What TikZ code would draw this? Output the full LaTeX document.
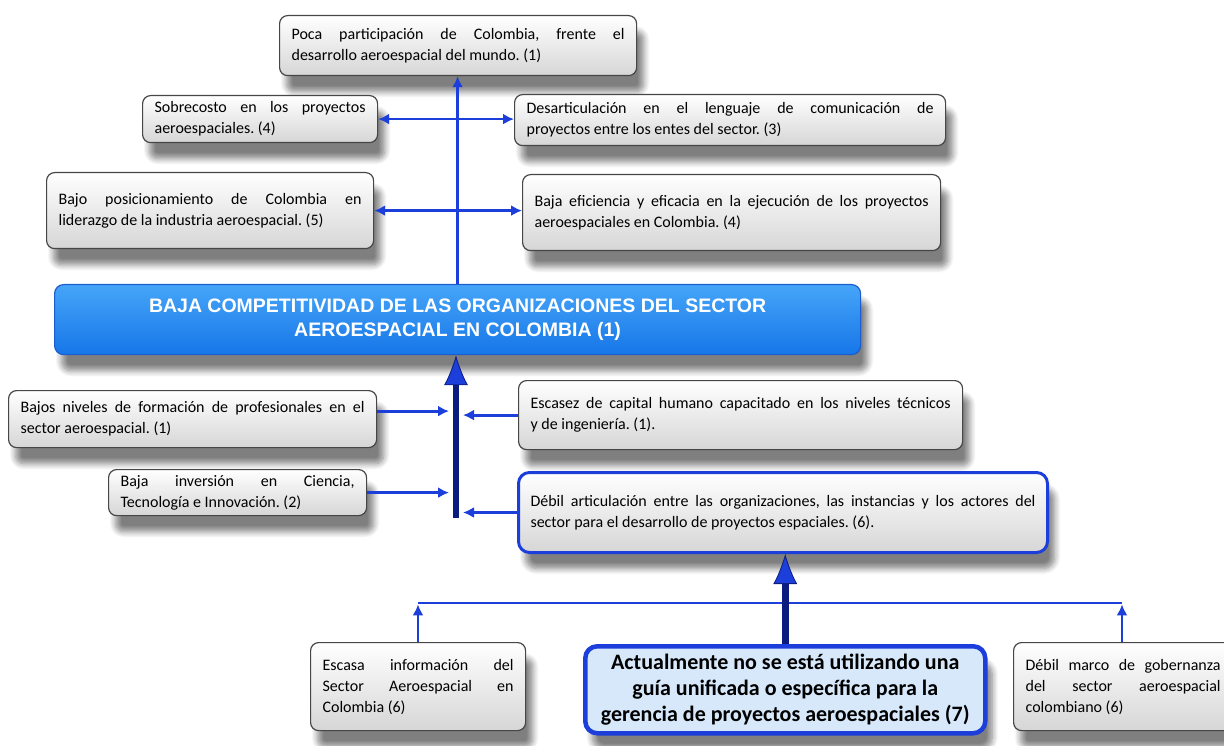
\documentclass[tikz,border=0pt]{standalone}
\usepackage{fontspec}
\setmainfont{Carlito}
\newfontfamily\headfont{Liberation Sans}
\usetikzlibrary{arrows.meta,shadows.blur,calc}

\definecolor{lineblue}{RGB}{28,62,218}
\definecolor{navy}{RGB}{10,28,125}
\definecolor{headtop}{RGB}{70,165,248}
\definecolor{headbot}{RGB}{22,118,232}
\definecolor{headedge}{RGB}{28,92,205}
\definecolor{boxedge}{RGB}{70,70,70}
\definecolor{boxlow}{RGB}{214,214,214}
\definecolor{paleblue}{RGB}{214,232,250}

\newcommand\boxtext{\fontsize{16}{21}\selectfont}

\tikzset{
  x=1pt, y=-1pt,
  softshadow/.style={blur shadow={shadow xshift=7pt, shadow yshift=-16pt,
      shadow opacity=50, shadow blur steps=8, shadow blur radius=6pt}},
  gbox/.style={draw=boxedge, line width=1.2pt, rounded corners=8pt,
      top color=white, bottom color=boxlow, anchor=north west,
      align=justify, inner xsep=12pt, inner ysep=2pt,
      font=\boxtext, softshadow},
  headbox/.style={draw=headedge, line width=1.2pt, rounded corners=9pt,
      top color=headtop, bottom color=headbot, anchor=north west,
      align=center, text=white, softshadow,
      font=\headfont\bfseries\fontsize{19.5}{24}\selectfont},
  keybox/.style={draw=lineblue, line width=4.5pt, rounded corners=12pt,
      fill=paleblue, anchor=north west, align=center, softshadow,
      font=\bfseries\fontsize{22}{26}\selectfont},
  linkbox/.style={gbox, draw=lineblue, line width=3pt, rounded corners=11pt},
  conn/.style={draw=lineblue, line width=2.8pt, -{Latex[length=11pt,width=11pt]}},
  bothconn/.style={draw=lineblue, line width=2.8pt,
      {Latex[length=11pt,width=11pt]}-{Latex[length=11pt,width=11pt]}},
  bus/.style={draw=lineblue, line width=2.8pt},
  trunk/.style={draw=navy, line width=6.5pt,
      -{Latex[length=30pt,width=24pt,fill=lineblue,color=navy,line width=0.8pt]}},
}

\begin{document}
\hyphenpenalty=10000
\exhyphenpenalty=10000
\frenchspacing
\begin{tikzpicture}
\useasboundingbox (0,0) rectangle (1224,746);

% upper effects
\node[gbox, text width=333pt, minimum height=60pt] (top) at (279,15)
  {Poca participación de Colombia, frente el\linebreak desarrollo aeroespacial del mundo. (1)};
\node[gbox, text width=211pt, minimum height=47pt] (sobre) at (142,95)
  {Sobrecosto en los proyectos\linebreak aeroespaciales. (4)};
\node[gbox, text width=407pt, minimum height=51pt] (desart) at (514,94)
  {Desarticulación en el lenguaje de comunicación de\linebreak proyectos entre los entes del sector. (3)};
\node[gbox, text width=303pt, minimum height=76pt] (bajopos) at (46,172)
  {Bajo posicionamiento de Colombia en\linebreak liderazgo de la industria aeroespacial. (5)};
\node[gbox, text width=394pt, minimum height=76pt] (bajaef) at (522,174)
  {Baja eficiencia y eficacia en la ejecución de los proyectos\linebreak aeroespaciales en Colombia. (4)};

% central problem
\node[headbox, minimum width=806pt, minimum height=70pt] (main) at (54,284)
  {BAJA COMPETITIVIDAD DE LAS ORGANIZACIONES DEL SECTOR\\AEROESPACIAL EN COLOMBIA (1)};

% causes
\node[gbox, text width=344pt, minimum height=57pt] (niveles) at (8,390)
  {Bajos niveles de formación de profesionales en el\linebreak sector aeroespacial. (1)};
\node[gbox, text width=420pt, minimum height=69pt] (escasez) at (518,380)
  {Escasez de capital humano capacitado en los niveles técnicos\linebreak y de ingeniería. (1).};
\node[gbox, text width=234pt, minimum height=46pt] (inversion) at (108,469)
  {Baja inversión en Ciencia,\linebreak Tecnología e Innovación. (2)};
\node[linkbox, text width=505pt, minimum height=80pt] (articul) at (517,471)
  {Débil articulación entre las organizaciones, las instancias y los actores del\linebreak sector para el desarrollo de proyectos espaciales. (6).};

% root causes
\node[gbox, text width=191pt, minimum height=88pt] (escasa) at (310,642)
  {Escasa información del\linebreak Sector Aeroespacial en\linebreak Colombia (6)};
\node[keybox, minimum width=400pt, minimum height=87pt] (actual) at (583,644)
  {Actualmente no se está utilizando una\\guía unificada o específica para la\\gerencia de proyectos aeroespaciales (7)};
\node[gbox, text width=195pt, minimum height=88pt] (marco) at (1013,642)
  {Débil marco de gobernanza\linebreak del sector aeroespacial\linebreak colombiano (6)};

% connectors above the central problem
\draw[conn] (main.north) -- (main.north |- top.south);
\draw[bothconn] (sobre.east) -- (sobre.east -| desart.west);
\draw[bothconn] (bajopos.east) -- (bajopos.east -| bajaef.west);

% trunk into the central problem
\coordinate (trunkfoot) at (456,518);
\draw[trunk] (trunkfoot) -- (trunkfoot |- main.south);
\draw[conn, shorten >=7pt] ([yshift=8pt]niveles.east) -- ([yshift=8pt]niveles.east -| trunkfoot);
\draw[conn, shorten >=7pt] (escasez.west) -- (escasez.west -| trunkfoot);
\draw[conn, shorten >=7pt] (inversion.east) -- (inversion.east -| trunkfoot);
\draw[conn, shorten >=7pt] (articul.west) -- (articul.west -| trunkfoot);

% lower level
\coordinate (busL) at (418,603);
\coordinate (busR) at (1122,603);
\draw[bus] (busL) -- (busR);
\draw[conn] (escasa.north -| busL) -- ([yshift=-1.4pt]busL);
\draw[conn] (marco.north -| busR) -- ([yshift=-1.4pt]busR);
\draw[trunk] (actual.north) -- (actual.north |- articul.south);
\end{tikzpicture}
\end{document}
